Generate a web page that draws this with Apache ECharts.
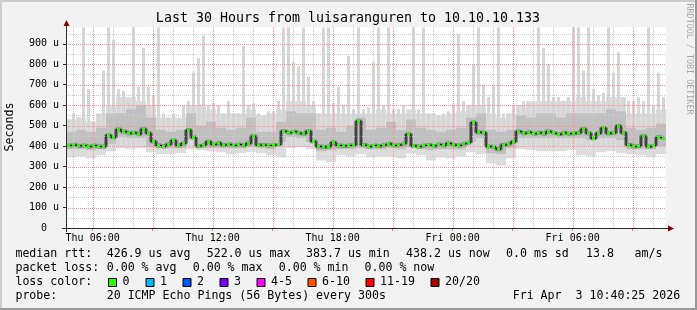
<!DOCTYPE html>
<html><head><meta charset="utf-8">
<script src="https://cdn.jsdelivr.net/npm/echarts@6/dist/echarts.min.js"></script>
<style>html,body{margin:0;padding:0;background:#f2f2f2;}#c{width:697px;height:310px;}</style>
</head><body><div id="c"></div>
<script>
// ---------- data ----------
const startHour = 4 + 40 / 60;   // Thu 04:40
const endHour = 34 + 40 / 60;    // Fri 10:40
const slotHours = 0.25;          // 15 min slots for median / max
const bandHours = 0.5;           // 30 min slots for smoke bands

const median = [
  403,405,401,403,398,403,398,398,453,443,
  481,471,463,465,458,483,463,423,403,398,
  408,428,403,413,478,443,401,405,421,408,
  415,405,408,403,408,403,413,448,405,405,
  403,405,408,473,465,471,463,460,473,423,
  398,396,398,418,403,401,403,405,522,405,
  398,403,401,405,411,403,405,413,458,401,
  398,403,405,401,408,403,413,405,403,411,
  418,515,468,465,398,395,385,405,411,421,
  471,463,468,461,465,461,471,463,458,465,
  461,463,465,483,463,438,463,488,463,465,
  498,465,405,398,401,448,398,403,443,438
];
const maxPing = [
  530,560,540,980,680,520,560,770,980,920,
  680,670,625,980,690,880,690,650,980,560,
  540,560,530,600,620,760,830,940,600,610,
  600,560,620,560,560,890,600,610,560,550,
  570,570,620,980,980,810,790,980,740,620,
  560,980,980,610,690,600,840,580,980,580,
  590,810,980,600,980,580,580,600,560,980,
  580,980,560,560,550,560,570,600,950,620,
  600,800,980,700,640,700,980,560,560,600,
  600,620,610,600,980,880,800,640,640,620,
  640,980,980,770,980,680,650,660,980,760,
  860,640,620,620,640,620,980,600,760,640
];
const lightTop = [
  530,540,520,560,600,640,640,620,600,540,
  540,540,600,600,580,560,560,560,580,550,
  560,580,620,620,600,560,560,560,560,560,
  560,580,560,560,580,560,560,550,560,570,
  600,600,560,540,560,600,620,620,620,620,
  620,640,620,620,640,640,560,560,560,580
];
const minPing = [
  345,350,340,355,375,390,385,390,370,360,
  360,365,385,380,375,370,360,365,370,365,
  355,345,390,395,385,330,320,355,350,360,
  345,350,350,340,365,355,330,345,340,350,
  370,360,315,305,340,385,380,375,375,375,
  380,355,350,370,375,365,360,355,345,360
];
const smokeHigh = [
  470,480,470,490,560,560,580,600,540,480,
  470,480,560,500,520,490,480,490,540,470,
  470,520,570,560,560,480,490,470,500,540,
  480,490,520,480,530,490,480,470,480,490,
  540,560,480,470,480,550,540,560,560,540,
  560,560,560,560,580,570,490,480,490,510
];
const smokeLow = [
  385,385,380,385,410,445,440,440,395,390,
  390,390,430,390,390,390,390,390,395,390,
  385,420,445,440,420,375,380,385,385,390,
  385,385,390,385,395,385,380,385,385,385,
  420,440,365,360,390,440,440,440,440,440,
  440,440,430,440,440,430,385,385,385,400
];

const yTickValues = [0,100,200,300,400,500,600,700,800,900];
const yMajorLevels = [100,200,300,400,500,600,700,800,900];
const yMinorLevels = [50,150,250,350,450,550,650,750,850,950];
const xLabelHours = [6,12,18,24,30];
const xLabels = ['Thu 06:00','Thu 12:00','Thu 18:00','Fri 00:00','Fri 06:00'];
const xMajorHours = [6,9,12,15,18,21,24,27,30,33];
const xMinorHours = [5,7,8,10,11,13,14,16,17,19,20,22,23,25,26,28,29,31,32,34];

const title = 'Last 30 Hours from luisaranguren to 10.10.10.133';
const yName = 'Seconds';
const credit = 'RRDTOOL / TOBI OETIKER';
const rttLabel = 'median rtt:';
const rttStats = ['426.9 us avg','522.0 us max','383.7 us min','438.2 us now','0.0 ms sd','13.8','am/s'];
const lossLabel = 'packet loss:';
const lossStats = ['0.00 % avg','0.00 % max','0.00 % min','0.00 % now'];
const colorLabel = 'loss color:';
const lossBins = ['0','1','2','3','4-5','6-10','11-19','20/20'];
const lossColors = ['#26ff00','#00b8ff','#0059ff','#7e00ff','#ff00ff','#ff5500','#ff0000','#a10000'];
const probeLabel = 'probe:';
const probeText = '20 ICMP Echo Pings (56 Bytes) every 300s';
const stamp = 'Fri Apr  3 10:40:25 2026';

// ---------- layout ----------
const W = 697, H = 310;
const G = {left: 66, top: 27, right: 666, bottom: 228};
const MONO = '"DejaVu Sans Mono", "Liberation Mono", monospace';
const legFont = '11.6px ' + MONO;
const rowY = [254, 268, 282, 296];
const rttX = [106.7, 206.7, 306, 406, 506, 586, 634.5];
const lossX = [106.7, 192.7, 278.7, 364.5];
const boxX = [108, 145.5, 182.5, 219.5, 256.5, 307.5, 365.5, 430.5];
const GRID_MINOR = '#cccccc', GRID_MAJOR = '#ff8f8f';

const lightData = lightTop.map((hi, j) => [startHour + j * bandHours, startHour + (j + 1) * bandHours, minPing[j], hi]);
const spikeData = maxPing.map((hi, i) => [startHour + i * slotHours, startHour + (i + 1) * slotHours, 400, hi]);
const midData = smokeLow.map((lo, j) => [startHour + j * bandHours, startHour + (j + 1) * bandHours, lo, smokeHigh[j]]);
const medData = median.map((v, i) => [startHour + (i + 0.5) * slotHours, v]);

function rectRender(fill, shrink) {
  return function (params, api) {
    const a = api.coord([api.value(0), api.value(3)]);
    const b = api.coord([api.value(1), api.value(2)]);
    const x0 = Math.round(a[0]) + (shrink || 0), x1 = Math.round(b[0]) - (shrink || 0);
    return {type: 'rect', shape: {x: x0, y: a[1], width: x1 - x0, height: b[1] - a[1]}, style: {fill: fill}};
  };
}
function hLineRender(color) {
  return function (params, api) {
    const cs = params.coordSys;
    const y = Math.round(api.coord([startHour, api.value(0)])[1]) + 0.5;
    return {type: 'line', shape: {x1: cs.x, y1: y, x2: cs.x + cs.width, y2: y},
      style: {stroke: color, lineWidth: 1, lineDash: [1, 1]}};
  };
}
function vLineRender(color) {
  return function (params, api) {
    const cs = params.coordSys;
    const x = Math.round(api.coord([api.value(0), 0])[0]) + 0.5;
    return {type: 'line', shape: {x1: x, y1: cs.y, x2: x, y2: cs.y + cs.height},
      style: {stroke: color, lineWidth: 1, lineDash: [1, 1]}};
  };
}

const graphics = [];
function txt(x, y, s, extra) {
  graphics.push(Object.assign({type: 'text', x: x, y: y, silent: true, z: 100,
    style: {text: s, font: legFont, fill: '#000', align: 'left', verticalAlign: 'middle'}}, extra || {}));
}
graphics.push({type: 'rect', shape: {x: 0, y: 0, width: W, height: 2}, style: {fill: '#cbcbcb'}, silent: true});
graphics.push({type: 'rect', shape: {x: 0, y: 0, width: 2, height: H}, style: {fill: '#cbcbcb'}, silent: true});
graphics.push({type: 'rect', shape: {x: 0, y: H - 2, width: W, height: 2}, style: {fill: '#999999'}, silent: true});
graphics.push({type: 'rect', shape: {x: W - 2, y: 0, width: 2, height: H}, style: {fill: '#999999'}, silent: true});
graphics.push({type: 'line', shape: {x1: 62, y1: G.bottom + 0.5, x2: 669, y2: G.bottom + 0.5}, style: {stroke: '#2c2c2c', lineWidth: 1}, z: 100, silent: true});
graphics.push({type: 'line', shape: {x1: G.left + 0.5, y1: G.bottom + 4, x2: G.left + 0.5, y2: 24}, style: {stroke: '#2c2c2c', lineWidth: 1}, z: 100, silent: true});
graphics.push({type: 'polygon', shape: {points: [[668, G.bottom - 2.5], [674, G.bottom + 0.5], [668, G.bottom + 3.5]]}, style: {fill: '#7f0000'}, z: 101, silent: true});
graphics.push({type: 'polygon', shape: {points: [[G.left - 2.5, 26], [G.left + 0.5, 20], [G.left + 3.5, 26]]}, style: {fill: '#7f0000'}, z: 101, silent: true});
graphics.push({type: 'text', x: 348, y: 19, z: 100, silent: true, style: {text: title, font: '13.3px ' + MONO, fill: '#000', align: 'center', verticalAlign: 'middle'}});
graphics.push({type: 'text', x: 10, y: 127, rotation: Math.PI / 2, z: 100, silent: true, style: {text: yName, font: legFont, fill: '#000', align: 'center', verticalAlign: 'middle'}});
graphics.push({type: 'text', x: 689, y: 59, rotation: -Math.PI / 2, z: 100, silent: true, style: {text: credit, font: '8.4px ' + MONO, fill: '#a8a8a8', align: 'center', verticalAlign: 'middle'}});
txt(15.4, rowY[0], rttLabel);
rttStats.forEach((s, i) => txt(rttX[i], rowY[0], s));
txt(15.4, rowY[1], lossLabel);
lossStats.forEach((s, i) => txt(lossX[i], rowY[1], s));
txt(15.4, rowY[2], colorLabel);
lossBins.forEach((s, i) => {
  graphics.push({type: 'rect', z: 100, silent: true, shape: {x: boxX[i] + 0.5, y: rowY[2] - 3.5, width: 8, height: 8},
    style: {fill: lossColors[i], stroke: '#000', lineWidth: 1}});
  txt(boxX[i] + 14.6, rowY[2], s);
});
txt(15.4, rowY[3], probeLabel);
txt(106.7, rowY[3], probeText);
txt(512.7, rowY[3], stamp);

const chart = echarts.init(document.getElementById('c'), null, {renderer: 'canvas'});
chart.setOption({
  animation: false,
  backgroundColor: '#f2f2f2',
  grid: {left: G.left, top: G.top, width: G.right - G.left, height: G.bottom - G.top,
    show: true, backgroundColor: '#ffffff', borderWidth: 0, containLabel: false},
  xAxis: {
    type: 'value', min: startHour, max: endHour,
    axisLine: {show: false},
    splitLine: {show: false},
    axisTick: {show: true, customValues: xMajorHours, length: 3, inside: false, lineStyle: {color: '#ff7070'}},
    axisLabel: {customValues: xLabelHours, margin: 5, fontFamily: MONO, fontSize: 10, color: '#000',
      formatter: v => xLabels[xLabelHours.indexOf(Math.round(v))] || ''}
  },
  yAxis: {
    type: 'value', min: 0, max: 982,
    axisLine: {show: false},
    splitLine: {show: false},
    axisTick: {show: true, customValues: yTickValues, length: 3, lineStyle: {color: '#2c2c2c'}},
    axisLabel: {customValues: yTickValues, margin: 7, fontFamily: MONO, fontSize: 10, color: '#000',
      formatter: v => (v === 0 ? '0  ' : v + ' u')}
  },
  graphic: graphics,
  series: [
    {type: 'custom', name: 'smoke-light', z: 1, silent: true, renderItem: rectRender('#dddddd', 0),
      encode: {x: [0, 1], y: [2, 3]}, data: lightData},
    {type: 'custom', name: 'smoke-spikes', z: 1, silent: true, renderItem: rectRender('#d6d6d6', 1),
      encode: {x: [0, 1], y: [2, 3]}, data: spikeData},
    {type: 'custom', name: 'smoke-mid', z: 2, silent: true, renderItem: rectRender('#c0c0c0', 0),
      encode: {x: [0, 1], y: [2, 3]}, data: midData},
    {type: 'line', name: 'smoke-core', z: 3, silent: true, step: 'middle', showSymbol: false,
      lineStyle: {color: 'rgba(40,40,40,0.4)', width: 4}, data: medData},
    {type: 'custom', name: 'grid-h-minor', z: 4, silent: true, renderItem: hLineRender(GRID_MINOR), encode: {y: 0}, data: yMinorLevels.map(v => [v])},
    {type: 'custom', name: 'grid-v-minor', z: 4, silent: true, renderItem: vLineRender(GRID_MINOR), encode: {x: 0}, data: xMinorHours.map(v => [v])},
    {type: 'custom', name: 'grid-h-major', z: 4, silent: true, renderItem: hLineRender(GRID_MAJOR), encode: {y: 0}, data: yMajorLevels.map(v => [v])},
    {type: 'custom', name: 'grid-v-major', z: 4, silent: true, renderItem: vLineRender(GRID_MAJOR), encode: {x: 0}, data: xMajorHours.map(v => [v])},
    {type: 'line', name: 'median', z: 5, silent: true, step: 'middle', showSymbol: true, showAllSymbol: true,
      symbol: 'rect', symbolSize: 3, itemStyle: {color: '#26ff00', borderWidth: 0},
      lineStyle: {color: '#000', width: 1}, data: medData}
  ]
});
</script>
</body></html>
